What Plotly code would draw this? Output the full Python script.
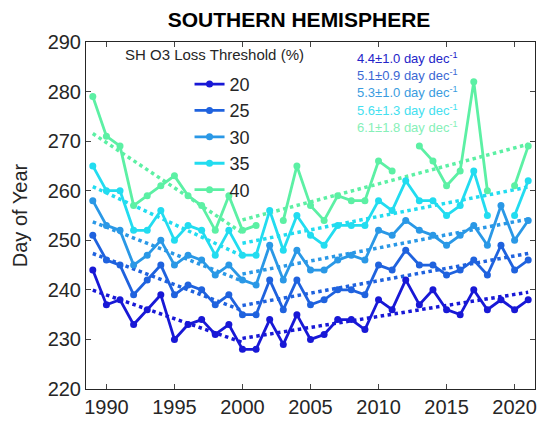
import numpy as np
import plotly.graph_objects as go

years = list(range(1989, 2022))
thresholds = ["20", "25", "30", "35", "40"]
N = None

doy_20 = [244, 237, 238, 233, 236, 239, 230, 233, 234, 231, 233, 228, 228, 234, 229, 235, 230,
          231, 234, 234, 232, 238, 236, 242, 237, 240, 236, 235, 240, 236, 238, 236, 238]
doy_25 = [251, 246, 245, 239, 242, 245, 239, 241, 240, 237, 239, 235, 235, 242, 236, 242, 237,
          238, 240, 240, 239, 245, 244, 248, 245, 245, 243, 244, 246, 243, 249, 244, 246]
doy_30 = [258, 253, 252, 245, 247, 250, 245, 247, 246, 243, 245, 242, 241, 249, 242, 248, 244,
          244, 246, 247, 246, 252, 251, 254, 252, 251, 249, 251, 253, 249, 257, 250, 254]
doy_35 = [265, 260, 260, 252, 252, 256, 250, 253, 252, 247, 252, 247, 247, 256, 248, 255, 251,
          249, 253, 253, 253, 258, 256, 262, 258, 258, 255, 257, 264, 255, N, 255, 262]
doy_40 = [279, 271, 269, 257, 259, 261, 263, 259, 257, 252, 259, 252, 253, N, 254, 265, 257,
          254, 259, 258, 258, 266, 264, N, 269, 266, 261, 264, 282, 260, N, 261, 269]

trend_text = ["4.4±1.0 day dec<sup>-1</sup>", "5.1±0.9 day dec<sup>-1</sup>",
              "5.3±1.0 day dec<sup>-1</sup>", "5.6±1.3 day dec<sup>-1</sup>",
              "6.1±1.8 day dec<sup>-1</sup>"]
break_year = 2000
x_ticks = [1990, 1995, 2000, 2005, 2010, 2015, 2020]

series = [doy_20, doy_25, doy_30, doy_35, doy_40]
colors = ["#1818d6", "#1f62de", "#2a98e6", "#22dcf0", "#5cf0a4"]
text_colors = ["#2424c8", "#3c68d4", "#3a9ce0", "#44e0f0", "#86f0b8"]

FONT = "Liberation Sans, Arial, sans-serif"
fig = go.Figure()

yrs = np.array(years, dtype=float)
for vals, col in zip(series, colors):
    v = np.array([np.nan if a is None else a for a in vals], dtype=float)
    for lo, hi in [(years[0], break_year), (break_year, years[-1])]:
        m = (yrs >= lo) & (yrs <= hi) & ~np.isnan(v)
        p = np.polyfit(yrs[m], v[m], 1)
        xs = np.array([lo, hi], dtype=float)
        fig.add_trace(go.Scatter(x=xs, y=np.polyval(p, xs), mode="lines",
                                 line=dict(color=col, width=3.5, dash="dot"),
                                 showlegend=False, hoverinfo="skip"))

for name, vals, col in zip(thresholds, series, colors):
    fig.add_trace(go.Scatter(x=years, y=vals, mode="lines+markers", name=name,
                             line=dict(color=col, width=2.8),
                             marker=dict(color=col, size=7),
                             connectgaps=False))

L, R, T, B = 86, 5, 42, 32
W, H = 542, 423
pw, ph = W - L - R, H - T - B

def px(x):
    return (x - L) / pw

def py(y):
    return (H - B - y) / ph

fig.add_annotation(x=px(215), y=py(55), xref="paper", yref="paper",
                   text="SH O3 Loss Threshold (%)", showarrow=False,
                   font=dict(family=FONT, size=15, color="#262626"),
                   xanchor="center", yanchor="middle")

for i, (t, c) in enumerate(zip(trend_text, text_colors)):
    fig.add_annotation(x=px(356), y=py(58 + i * 17.3), xref="paper", yref="paper",
                       text=t, showarrow=False, xanchor="left", yanchor="middle",
                       font=dict(family=FONT, size=13, color=c))

fig.update_layout(
    width=W, height=H,
    margin=dict(l=L, r=R, t=T, b=B),
    paper_bgcolor="white", plot_bgcolor="white",
    title=dict(text="<b>SOUTHERN HEMISPHERE</b>", x=px(300), xref="paper",
               y=1 - 20 / H, yanchor="middle", xanchor="center",
               font=dict(family=FONT, size=21, color="black")),
    font=dict(family=FONT, color="#262626"),
    legend=dict(x=px(190), y=py(66), xanchor="left", yanchor="top",
                font=dict(family=FONT, size=18, color="#262626"),
                bgcolor="rgba(0,0,0,0)", tracegroupgap=0),
    showlegend=True,
)
fig.update_xaxes(range=[1988.5, 2021.5], tickvals=x_ticks, ticks="inside", ticklen=5,
                 showline=True, linecolor="#262626", linewidth=1, mirror="ticks",
                 showgrid=False, zeroline=False, tickfont=dict(size=20, family=FONT))
fig.update_yaxes(range=[220, 290], dtick=10, ticks="inside", ticklen=5,
                 showline=True, linecolor="#262626", linewidth=1, mirror="ticks",
                 showgrid=False, zeroline=False, tickfont=dict(size=20, family=FONT),
                 title=dict(text="Day of Year", font=dict(size=20, family=FONT), standoff=14))

fig.write_html("out.html", config={"displayModeBar": False},
               post_script="document.body.style.margin='0';")
